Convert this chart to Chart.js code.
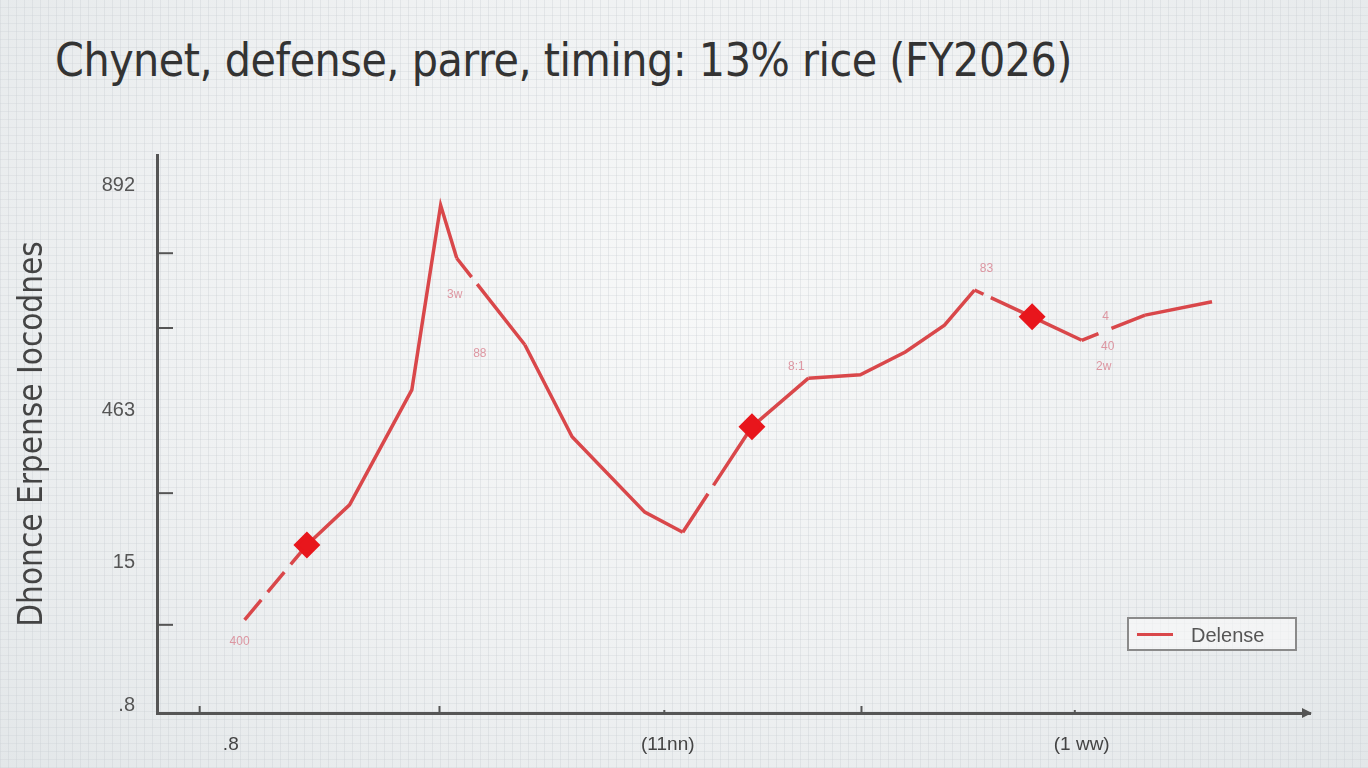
<!DOCTYPE html>
<html>
<head>
<meta charset="utf-8">
<script src="https://cdn.jsdelivr.net/npm/chart.js@4.4.1/dist/chart.umd.min.js"></script>
<style>
  html, body { margin: 0; padding: 0; }
  body {
    width: 1368px; height: 768px; overflow: hidden; position: relative;
    background-color: #eef0f1;
    background-image:
      repeating-linear-gradient(90deg, rgba(200,205,210,0.35) 0 1px, transparent 1px 8px),
      repeating-linear-gradient(0deg, rgba(200,205,210,0.30) 0 1px, transparent 1px 8px),
      radial-gradient(ellipse at 50% 40%, #f7f8f8 0%, #eff1f2 55%, #e3e7e9 100%);
  }
  #titulo {
    position: absolute; left: 55px; top: 33px; margin: 0;
    font-family: "DejaVu Sans Condensed", "Liberation Sans Narrow", sans-serif;
    font-weight: normal; font-size: 46px; color: #333; letter-spacing: -0.5px;
    white-space: nowrap;
  }
  #leyenda {
    position: absolute; left: 1127px; top: 617px; width: 170px; height: 34px;
    border: 2px solid #8a8a8a; box-sizing: border-box; background: rgba(250,250,250,0.6);
    font-family: "Liberation Sans", sans-serif; font-size: 20px; color: #555;
  }
  #leyenda .muestra {
    position: absolute; left: 8px; top: 14px; width: 36px; height: 3px; background: #d9474a;
  }
  #leyenda .texto { position: absolute; left: 62px; top: 5px; }
  #canvasContainer { position: absolute; left: 0; top: 0; width: 1368px; height: 768px; }
</style>
</head>
<body>
<h1 id="titulo">Chynet, defense, parre, timing: 13% rice (FY2026)</h1>
<div id="canvasContainer"><canvas id="myChart" width="1368" height="768"></canvas></div>
<div id="leyenda"><div class="muestra"></div><span class="texto">Delense</span></div>
<script>
// datos (unidades de eje 0..100)
const valoresX = [7.6, 13.0, 16.7, 22.1, 24.6, 26.0, 31.9, 36.0, 42.3, 45.6, 51.6, 56.5, 61.0, 64.9, 68.3, 70.9, 75.9, 80.2, 85.7, 91.5]
const valoresY = [16.7, 30.1, 37.3, 57.9, 91.0, 81.5, 66.0, 49.5, 36.0, 32.4, 51.3, 60.0, 60.6, 64.7, 69.5, 75.8, 71.0, 66.8, 71.3, 73.7]
const marcadores = [1, 10, 16]

const ticksY = [1.4, 26.9, 54.3, 94.6]
const etiquetasY = [".8", "15", "463", "892"]
const marcasY = [15.8, 39.4, 69.0, 82.4]

const ticksX = [6.4, 44.3, 80.2]
const etiquetasX = [".8", "(11nn)", "(1 ww)"]
const marcasX = [3.7, 24.5, 44.0, 61.1, 79.6]

const notas = [
  {i: 0, texto: "400"},
  {i: 5, texto: "3w"},
  {i: 6, texto: "88"},
  {i: 11, texto: "8:1"},
  {i: 15, texto: "83"},
  {i: 17, texto: "4"},
  {i: 17, texto: "40"},
  {i: 17, texto: "2w"}
]
const desplazamientos = [[-5, 25], [-2, 40], [-45, 12], [-12, -8], [12, -18], [24, -20], [26, 10], [22, 30]]

// cortes en la linea (segmento -> patron)
const cortes = {0: [26, 10], 5: [24, 9, 400], 9: [46, 10, 400], 10: [46, 10, 400], 15: [10, 8, 400], 17: [18, 14, 400]}

const puntos = valoresX.map((x, i) => ({x: x, y: valoresY[i]}))

const extras = {
  id: "extras",
  afterDraw(chart) {
    const ctx = chart.ctx
    const sx = chart.scales.x, sy = chart.scales.y
    ctx.save()
    ctx.strokeStyle = "#555"
    ctx.lineWidth = 2
    marcasY.forEach(v => {
      const py = sy.getPixelForValue(v)
      ctx.beginPath(); ctx.moveTo(sx.left, py); ctx.lineTo(sx.left + 16, py); ctx.stroke()
    })
    marcasX.forEach((v, k) => {
      const px = sx.getPixelForValue(v)
      const largo = (k == 2 || k == 4) ? 3 : 7
      ctx.beginPath(); ctx.moveTo(px, sy.bottom - largo); ctx.lineTo(px, sy.bottom + 1); ctx.stroke()
    })
    // punta de flecha del eje x
    ctx.fillStyle = "#555"
    ctx.beginPath()
    ctx.moveTo(sx.right + 2, sy.bottom)
    ctx.lineTo(sx.right - 8, sy.bottom - 5)
    ctx.lineTo(sx.right - 8, sy.bottom + 5)
    ctx.closePath(); ctx.fill()
    // notas rosadas
    const meta = chart.getDatasetMeta(0)
    ctx.fillStyle = "rgba(215,120,135,0.75)"
    ctx.font = "12px 'Liberation Sans Narrow', sans-serif"
    ctx.textAlign = "center"
    notas.forEach((n, k) => {
      const p = meta.data[n.i]
      ctx.fillText(n.texto, p.x + desplazamientos[k][0], p.y + desplazamientos[k][1])
    })
    ctx.restore()
  }
}

const ctx = document.getElementById("myChart").getContext("2d")
const myChart = new Chart(ctx, {
  type: "line",
  data: {
    datasets: [{
      label: "Delense",
      data: puntos,
      borderColor: "#d9474a",
      borderWidth: 3.5,
      tension: 0,
      pointStyle: "rectRot",
      pointRadius: puntos.map((p, i) => marcadores.includes(i) ? 11 : 0),
      pointBackgroundColor: "#e8161c",
      pointBorderColor: "#e8161c",
      segment: {
        borderDash: c => cortes[c.p0DataIndex] || undefined
      }
    }]
  },
  options: {
    responsive: false,
    animation: false,
    layout: {padding: {left: 0, right: 58, top: 155, bottom: 0}},
    plugins: {legend: {display: false}, title: {display: false}, tooltip: {enabled: false}},
    scales: {
      x: {
        type: "linear", min: 0, max: 100,
        grid: {display: false},
        border: {display: true, color: "#555", width: 3},
        afterBuildTicks: s => { s.ticks = ticksX.map(v => ({value: v})) },
        afterFit: s => { s.height = 55 },
        ticks: {
          autoSkip: false, maxRotation: 0, padding: 12,
          color: "#444",
          font: {family: "'Liberation Sans Narrow', sans-serif", size: 19},
          callback: (v, i) => etiquetasX[i]
        }
      },
      y: {
        type: "linear", min: 0, max: 100,
        grid: {display: false},
        border: {display: true, color: "#555", width: 3},
        afterBuildTicks: s => { s.ticks = ticksY.map(v => ({value: v})) },
        afterFit: s => { s.width = 157 },
        ticks: {
          autoSkip: false, padding: 14,
          color: "#555",
          font: {family: "'Liberation Sans Narrow', sans-serif", size: 20},
          callback: (v, i) => etiquetasY[i]
        },
        title: {
          display: true,
          text: "Dhonce Erpense Iocodnes",
          color: "#444",
          font: {family: "'DejaVu Sans Condensed', sans-serif", size: 33},
          padding: {top: 14, bottom: 0}
        }
      }
    }
  },
  plugins: [extras]
})
</script>
</body>
</html>
